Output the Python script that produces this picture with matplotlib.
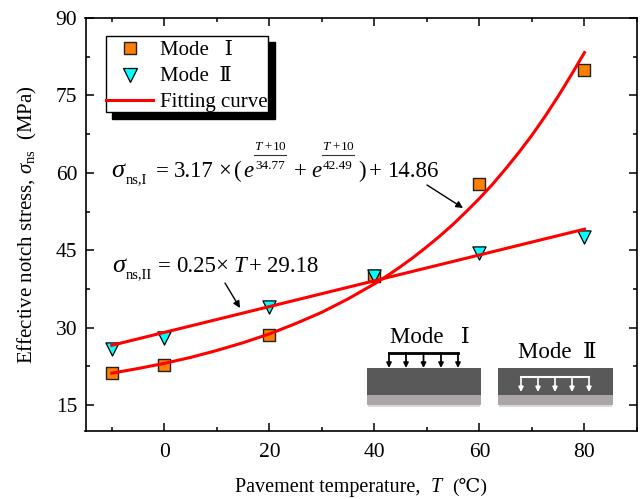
import matplotlib
matplotlib.use("Agg")
import matplotlib.pyplot as plt
from matplotlib.lines import Line2D
from matplotlib.patches import Rectangle, FancyArrowPatch
from matplotlib.ticker import MultipleLocator

plt.rcParams['font.family'] = ['Liberation Serif', 'DejaVu Serif']
plt.rcParams['mathtext.fontset'] = 'custom'
plt.rcParams['mathtext.rm'] = 'Liberation Serif'
plt.rcParams['mathtext.it'] = 'Liberation Serif:italic'
plt.rcParams['mathtext.fallback'] = 'stix'

# data
temp = [-10, 0, 20, 40, 60, 80]
mode1 = [21.2, 22.7, 28.6, 40.0, 57.8, 80.0]
mode2 = [25.9, 28.1, 34.0, 40.1, 44.4, 47.6]

curve_t = [-10, -5, 0, 5, 10, 15, 20, 25, 30, 35, 40, 42.5, 45, 47.5, 50, 52.5, 55, 57.5,
           60, 62.5, 65, 67.5, 70, 72.5, 75, 77.5, 80]
curve1 = [21.2, 22.1, 23.1, 24.25, 25.6, 27.1, 28.8, 30.8, 33.0, 35.6, 38.5, 40.1,
          41.85, 43.7, 45.7, 47.8, 50.05, 52.5, 55.05, 57.8, 60.8, 63.95, 67.3,
          70.95, 74.85, 79.0, 83.3]
line_t = [-10, 80]
line2 = [26.6, 49.1]

W, H = 641, 499
ORANGE = '#ff8000'
CYAN = '#00ffff'
RED = '#ff0000'


def fx(x):
    return x / W


def fy(y):
    return 1 - y / H


def txt(x, y, s, size=16.5, **kw):
    # text placed by pixel position of the reference (baseline)
    fig.text(fx(x), fy(y), s, fontsize=size, va='baseline', **kw)


def box(x0, y0, x1, y1, **kw):
    fig.add_artist(Rectangle((fx(x0), fy(y1)), (x1 - x0) / W, (y1 - y0) / H,
                             transform=fig.transFigure, **kw))


def seg(x0, y0, x1, y1, **kw):
    fig.add_artist(Line2D([fx(x0), fx(x1)], [fy(y0), fy(y1)],
                          transform=fig.transFigure, **kw))


def arrow(x0, y0, x1, y1, color='black', lw=1.0, ms=10):
    fig.add_artist(FancyArrowPatch((fx(x0), fy(y0)), (fx(x1), fy(y1)),
                                   transform=fig.transFigure, arrowstyle='-|>',
                                   mutation_scale=ms, color=color, lw=lw,
                                   shrinkA=0, shrinkB=0, zorder=6))


fig = plt.figure(figsize=(6.41, 4.99), dpi=100)
ax = fig.add_axes([fx(85.5), fy(431), (637 - 85.5) / W, (431 - 18) / H])

ax.plot(curve_t, curve1, color=RED, lw=2.2, zorder=4, solid_joinstyle='round')
ax.plot(line_t, line2, color=RED, lw=2.2, zorder=4)
ax.scatter(temp, mode1, marker='s', s=64, c=ORANGE, edgecolors='#222222', linewidths=1.0, zorder=3)
ax.scatter(temp, mode2, marker='v', s=90, c=CYAN, edgecolors='black', linewidths=0.9, zorder=3)

ax.set_xlim(-15, 90)
ax.set_ylim(10, 90)
ax.xaxis.set_major_locator(MultipleLocator(20))
ax.xaxis.set_minor_locator(MultipleLocator(10))
ax.yaxis.set_major_locator(MultipleLocator(15))
ax.yaxis.set_minor_locator(MultipleLocator(7.5))
ax.tick_params(which='major', direction='in', length=5.8, width=1.1, top=True, right=True, labelsize=15.5)
ax.tick_params(which='minor', direction='in', length=3, width=1.1, top=True, right=True)
ax.tick_params(axis='x', which='major', pad=8.5)
ax.tick_params(axis='y', which='major', pad=6)
for sp in ax.spines.values():
    sp.set_linewidth(1.2)

txt(235, 492, 'Pavement temperature,', size=14.5)
txt(431, 492, 'T', size=14.5, style='italic')
txt(452, 492, '(℃)', size=14)
fig.text(fx(27), fy(224.5), r'Effective notch stress, $\sigma_{\mathrm{ns}}$  (MPa)', fontsize=15,
         rotation=90, ha='center', va='center')

# legend with its hard shadow
box(112, 42, 275, 119, fc='black', ec='black', zorder=5)
box(106, 36, 268, 112, fc='white', ec='black', lw=1, zorder=5.1)
fig.add_artist(Line2D([fx(130)], [fy(48)], marker='s', ms=8, mfc=ORANGE, mec='#222222', mew=1.0,
                      transform=fig.transFigure, zorder=5.2))
fig.add_artist(Line2D([fx(130)], [fy(75)], marker='v', ms=10, mfc=CYAN, mec='black', mew=0.9,
                      transform=fig.transFigure, zorder=5.2))
seg(106, 100, 153, 100, color=RED, lw=2.2, zorder=5.2)
txt(160, 55, 'Mode   Ⅰ', size=15, zorder=5.2)
txt(160, 81, 'Mode  Ⅱ', size=15, zorder=5.2)
txt(160, 107, 'Fitting curve', size=15, zorder=5.2)

# equation of mode I
txt(111, 177, r'$\sigma$', size=19)
txt(126, 183, 'ns,I', size=10.5)
txt(162, 177, '=', ha='center')
txt(174, 177, '3.17')
txt(225, 177, '×', ha='center')
txt(234, 177, '(')
txt(243, 177, r'$e$')
for cx, den in [(270, '34.77'), (338, '42.49')]:
    txt(cx, 150, r'$T$ +10', size=9.5, ha='center')
    seg(cx - 16, 155, cx + 16, 155, color='#333333', lw=0.8)
    txt(cx, 169, den, size=9.5, ha='center')
txt(300, 177, '+', ha='center')
txt(311, 177, r'$e$')
txt(358, 177, ')')
txt(375, 177, '+', ha='center')
txt(387, 177, '14.86')
arrow(427, 185, 463, 208)

# equation of mode II
txt(112, 272, r'$\sigma$', size=19)
txt(126, 278, 'ns,II', size=10.5)
txt(164, 272, '=', ha='center')
txt(176, 272, '0.25')
txt(222, 272, '×', ha='center')
txt(233, 272, r'$T$')
txt(255, 272, '+', ha='center')
txt(267, 272, '29.18')
arrow(225, 283, 240, 308)

# inset sketches of the two load modes
for x0, x1 in [(367, 481), (498, 613)]:
    box(x0 + 1, 404, x1 - 1, 407, fc='#d8d8d8', ec='none', zorder=5)
    box(x0, 368, x1, 395, fc='#595959', ec='none', zorder=5.1)
    box(x0, 395, x1, 405, fc='#aaa6a5', ec='none', zorder=5.1)

seg(389, 353, 458, 353, color='black', lw=2.0, zorder=6)
for x in [389, 406, 423.5, 441, 458]:
    arrow(x, 353, x, 368, color='black', lw=1.3, ms=7)
seg(521, 377, 589, 377, color='white', lw=1.5, zorder=6)
for x in [521, 538, 555, 572, 589]:
    arrow(x, 377, x, 392, color='white', lw=1.2, ms=7)
txt(390, 343, 'Mode   Ⅰ', size=16.5, zorder=6)
txt(518, 358, 'Mode  Ⅱ', size=16.5, zorder=6)

fig.savefig('out.png', dpi=100)
